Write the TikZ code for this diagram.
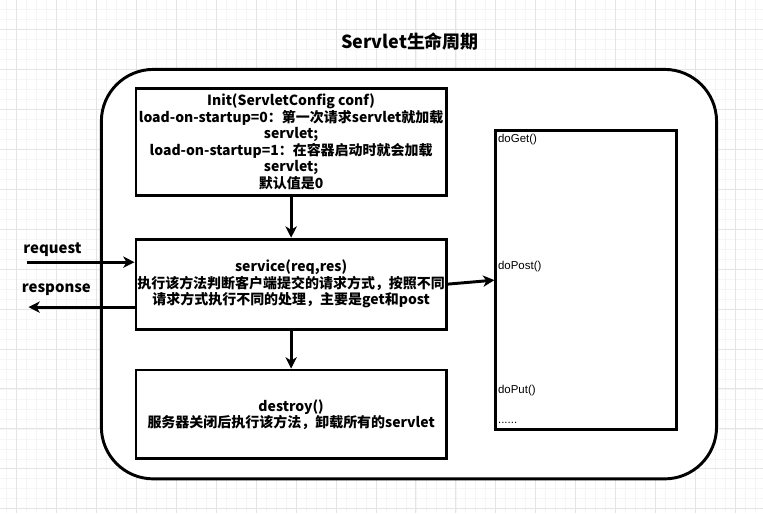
\documentclass[tikz,border=0pt]{standalone}
\usepackage{fontspec}
\setmainfont{Liberation Sans}
\newfontfamily\cjk{Noto Sans CJK SC}
\usepackage{tikz}
\usetikzlibrary{positioning,arrows.meta}
\definecolor{GridMajor}{HTML}{E4E4E4}
\definecolor{GridMinor}{HTML}{F5F5F5}

\begin{document}
\begin{tikzpicture}[x=0.75pt,y=-0.75pt,
    every node/.style={font=\cjk\bfseries\fontsize{10.5}{12.4}\selectfont, align=center},
    phase/.style={draw, line width=2.2pt, fill=white, minimum width=233pt, inner sep=1pt},
    flow/.style={line width=2.2pt, -{Stealth[length=8.5pt,width=8.5pt,inset=2.5pt]}},
    methodlabel/.style={anchor=west, inner sep=0pt, font=\fontsize{8.6}{10}\selectfont}]
        % grid of the canvas
        \fill[white] (0,0) rectangle (763,513);
        \foreach \x in {6,16,...,756} \draw[GridMinor, line width=0.6pt] (\x,0) -- (\x,513);
        \foreach \y in {9,19,...,509} \draw[GridMinor, line width=0.6pt] (0,\y) -- (763,\y);
        \foreach \x in {16,56,...,736} \draw[GridMajor, line width=0.75pt] (\x,0) -- (\x,513);
        \foreach \y in {29,69,...,509} \draw[GridMajor, line width=0.75pt] (0,\y) -- (763,\y);
        \useasboundingbox (0,0) rectangle (763,513);

        \node[draw, line width=2.2pt, fill=white, rounded corners=39pt,
          minimum width=462pt, minimum height=307.5pt] (life) at (409,274) {};
        \node[font=\cjk\bfseries\fontsize{13.5}{16}\selectfont] (title) at (410,41) {Servlet生命周期};

        \node[phase, minimum height=80.25pt] (init) at (291,141.5)
          {Init(ServletConfig conf)\\load-on-startup=0：第一次请求servlet就加载\\servlet;\\load-on-startup=1：在容器启动时就会加载\\servlet;\\默认值是0};
        \node[phase, minimum height=67.5pt] (service) at (291,284)
          {service(req,res)\\执行该方法判断客户端提交的请求方式，按照不同\\请求方式执行不同的处理，主要是get和post};
        \node[phase, minimum height=66.75pt] (destroy) at (291,414.5)
          {destroy()\\服务器关闭后执行该方法，卸载所有的servlet};

        \node[draw, line width=2.2pt, fill=white, minimum width=135.75pt, minimum height=225pt] (methods) at (586.5,280) {};
        \node[methodlabel] (doget) at (498,139) {doGet()};
        \node[methodlabel] (dopost) at (498,266) {doPost()};
        \node[methodlabel] (doput) at (498,391) {doPut()};
        \node[methodlabel] (more) at (498,423) {......};

        \coordinate (reqstart) at (27,262);
        \coordinate (respend) at (28,307);
        \node[font=\cjk\bfseries\fontsize{11.2}{13}\selectfont] (reqlabel) at (52,249) {request};
        \node[font=\cjk\bfseries\fontsize{11.2}{13}\selectfont] (resplabel) at (56,290) {response};

        \draw[flow] (init) -- (service);
        \draw[flow] (service) -- (destroy);
        \draw[flow] (reqstart) -- (reqstart -| service.west);
        \draw[flow] (respend -| service.west) -- (respend);
        \draw[flow] (service.east) -- (methods.west);
      \end{tikzpicture}
\end{document}
